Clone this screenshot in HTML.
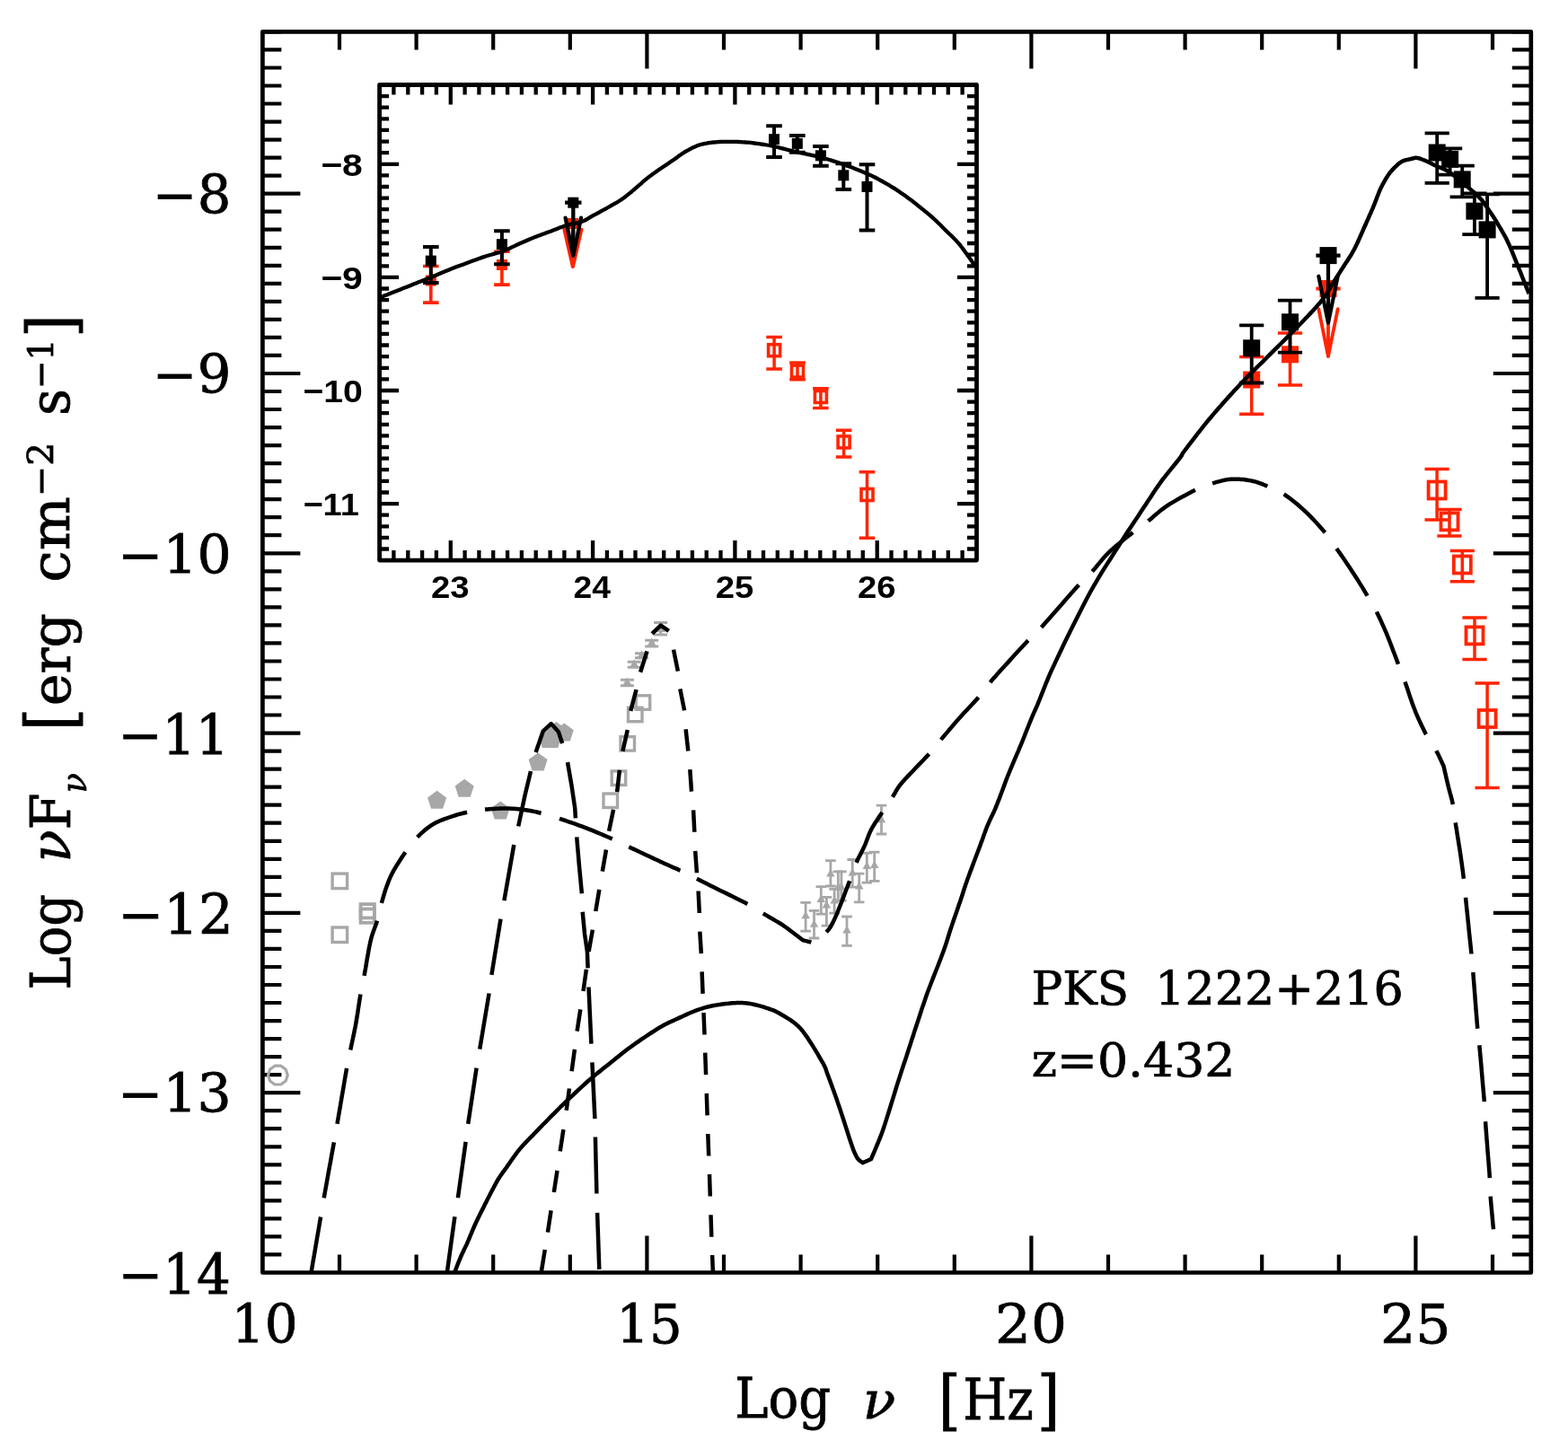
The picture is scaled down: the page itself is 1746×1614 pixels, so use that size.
<!DOCTYPE html>
<html><head><meta charset="utf-8"><title>PKS 1222+216 SED</title><style>
html,body{margin:0;padding:0;background:#fff;overflow:hidden;}
svg{display:block;}
</style></head><body>
<svg width="1746" height="1614" viewBox="0 0 1746 1614">
<rect width="1746" height="1614" fill="#fff"/>
<defs><clipPath id="cm"><rect x="292.4" y="35.4" width="1412.4" height="1382.1"/></clipPath><clipPath id="ci"><rect x="422.6" y="94.5" width="664.9" height="529.6"/></clipPath></defs>
<path d="M378 1417.5v-20M378 35.4v20M463.6 1417.5v-20M463.6 35.4v20M549.2 1417.5v-20M549.2 35.4v20M634.8 1417.5v-20M634.8 35.4v20M720.4 1417.5v-41M720.4 35.4v41M806 1417.5v-20M806 35.4v20M891.6 1417.5v-20M891.6 35.4v20M977.2 1417.5v-20M977.2 35.4v20M1062.8 1417.5v-20M1062.8 35.4v20M1148.4 1417.5v-41M1148.4 35.4v41M1234 1417.5v-20M1234 35.4v20M1319.6 1417.5v-20M1319.6 35.4v20M1405.2 1417.5v-20M1405.2 35.4v20M1490.8 1417.5v-20M1490.8 35.4v20M1576.4 1417.5v-41M1576.4 35.4v41M1662 1417.5v-20M1662 35.4v20M292.4 1397.4h21M1704.8 1397.4h-21M292.4 1377.4h21M1704.8 1377.4h-21M292.4 1357.4h21M1704.8 1357.4h-21M292.4 1337.4h21M1704.8 1337.4h-21M292.4 1317.3h21M1704.8 1317.3h-21M292.4 1297.3h21M1704.8 1297.3h-21M292.4 1277.3h21M1704.8 1277.3h-21M292.4 1257.2h21M1704.8 1257.2h-21M292.4 1237.2h21M1704.8 1237.2h-21M292.4 1217.2h42M1704.8 1217.2h-42M292.4 1197.1h21M1704.8 1197.1h-21M292.4 1177.1h21M1704.8 1177.1h-21M292.4 1157.1h21M1704.8 1157.1h-21M292.4 1137.1h21M1704.8 1137.1h-21M292.4 1117h21M1704.8 1117h-21M292.4 1097h21M1704.8 1097h-21M292.4 1077h21M1704.8 1077h-21M292.4 1056.9h21M1704.8 1056.9h-21M292.4 1036.9h21M1704.8 1036.9h-21M292.4 1016.9h42M1704.8 1016.9h-42M292.4 996.8h21M1704.8 996.8h-21M292.4 976.8h21M1704.8 976.8h-21M292.4 956.8h21M1704.8 956.8h-21M292.4 936.8h21M1704.8 936.8h-21M292.4 916.7h21M1704.8 916.7h-21M292.4 896.7h21M1704.8 896.7h-21M292.4 876.7h21M1704.8 876.7h-21M292.4 856.6h21M1704.8 856.6h-21M292.4 836.6h21M1704.8 836.6h-21M292.4 816.6h42M1704.8 816.6h-42M292.4 796.5h21M1704.8 796.5h-21M292.4 776.5h21M1704.8 776.5h-21M292.4 756.5h21M1704.8 756.5h-21M292.4 736.5h21M1704.8 736.5h-21M292.4 716.4h21M1704.8 716.4h-21M292.4 696.4h21M1704.8 696.4h-21M292.4 676.4h21M1704.8 676.4h-21M292.4 656.3h21M1704.8 656.3h-21M292.4 636.3h21M1704.8 636.3h-21M292.4 616.3h42M1704.8 616.3h-42M292.4 596.2h21M1704.8 596.2h-21M292.4 576.2h21M1704.8 576.2h-21M292.4 556.2h21M1704.8 556.2h-21M292.4 536.1h21M1704.8 536.1h-21M292.4 516.1h21M1704.8 516.1h-21M292.4 496.1h21M1704.8 496.1h-21M292.4 476.1h21M1704.8 476.1h-21M292.4 456h21M1704.8 456h-21M292.4 436h21M1704.8 436h-21M292.4 416h42M1704.8 416h-42M292.4 395.9h21M1704.8 395.9h-21M292.4 375.9h21M1704.8 375.9h-21M292.4 355.9h21M1704.8 355.9h-21M292.4 335.9h21M1704.8 335.9h-21M292.4 315.8h21M1704.8 315.8h-21M292.4 295.8h21M1704.8 295.8h-21M292.4 275.8h21M1704.8 275.8h-21M292.4 255.7h21M1704.8 255.7h-21M292.4 235.7h21M1704.8 235.7h-21M292.4 215.7h42M1704.8 215.7h-42M292.4 195.6h21M1704.8 195.6h-21M292.4 175.6h21M1704.8 175.6h-21M292.4 155.6h21M1704.8 155.6h-21M292.4 135.6h21M1704.8 135.6h-21M292.4 115.5h21M1704.8 115.5h-21M292.4 95.5h21M1704.8 95.5h-21M292.4 75.5h21M1704.8 75.5h-21M292.4 55.4h21M1704.8 55.4h-21M292.4 35.4h21M1704.8 35.4h-21" stroke="#000" stroke-width="4.2" fill="none"/>
<rect x="292.4" y="35.4" width="1412.4" height="1382.1" stroke="#000" stroke-width="4.7" fill="none" stroke-linejoin="round"/>
<rect x="370.1" y="973.1" width="16.5" height="16.5" fill="none" stroke="#a7a7a7" stroke-width="3.4"/>
<rect x="370.1" y="1033" width="16.5" height="16.5" fill="none" stroke="#a7a7a7" stroke-width="3.4"/>
<rect x="401.6" y="1007.1" width="15.3" height="15.3" fill="none" stroke="#a7a7a7" stroke-width="3.8"/>
<rect x="401.6" y="1012.5" width="15.3" height="15.3" fill="none" stroke="#a7a7a7" stroke-width="3.8"/>
<path d="M320.3 1197.6 318.2 1191.2 312.8 1187.2 306 1187.2 300.6 1191.2 298.5 1197.6 300.6 1204 306 1208 312.8 1208 318.2 1204Z" fill="none" stroke="#a7a7a7" stroke-width="3.2" stroke-linejoin="round"/>
<path d="M486.6 880.8 497.1 888.4 493.1 900.7 480.1 900.7 476.1 888.4Z" fill="#a7a7a7"/>
<path d="M517.2 867.8 527.7 875.4 523.7 887.7 510.7 887.7 506.7 875.4Z" fill="#a7a7a7"/>
<path d="M557.2 892.5 567.7 900.1 563.7 912.4 550.7 912.4 546.7 900.1Z" fill="#a7a7a7"/>
<path d="M599.1 838.5 609.6 846.1 605.6 858.4 592.6 858.4 588.6 846.1Z" fill="#a7a7a7"/>
<path d="M610.3 813 620.8 820.6 616.8 832.9 603.8 832.9 599.8 820.6Z" fill="#a7a7a7"/>
<path d="M614.8 813 625.3 820.6 621.3 832.9 608.3 832.9 604.3 820.6Z" fill="#a7a7a7"/>
<path d="M619.4 804 629.9 811.6 625.9 823.9 612.9 823.9 608.9 811.6Z" fill="#a7a7a7"/>
<path d="M628.3 805.6 638.8 813.2 634.8 825.5 621.8 825.5 617.8 813.2Z" fill="#a7a7a7"/>
<rect x="708.2" y="774.8" width="15.5" height="15.5" fill="none" stroke="#a7a7a7" stroke-width="3.4"/>
<rect x="699.5" y="788.2" width="15.5" height="15.5" fill="none" stroke="#a7a7a7" stroke-width="3.4"/>
<rect x="691" y="820.6" width="15.5" height="15.5" fill="none" stroke="#a7a7a7" stroke-width="3.4"/>
<rect x="681.2" y="858.9" width="15.5" height="15.5" fill="none" stroke="#a7a7a7" stroke-width="3.4"/>
<rect x="672" y="884" width="15.5" height="15.5" fill="none" stroke="#a7a7a7" stroke-width="3.4"/>
<path d="M698.4 754.4 703.9 764.3 692.9 764.3Z" fill="#a7a7a7"/>
<path d="M698.4 757.2V763.7M690.9 757.2h15M690.9 763.7h15" fill="none" stroke="#a7a7a7" stroke-width="3"/>
<path d="M706.2 734.3 711.7 744.2 700.7 744.2Z" fill="#a7a7a7"/>
<path d="M706.2 737.2V743.3M698.7 737.2h15M698.7 743.3h15" fill="none" stroke="#a7a7a7" stroke-width="3"/>
<path d="M714.5 724.3 720 734.2 709 734.2Z" fill="#a7a7a7"/>
<path d="M714.5 727.7V732.7M707 727.7h15M707 732.7h15" fill="none" stroke="#a7a7a7" stroke-width="3"/>
<path d="M725.7 710.6 731.2 720.5 720.2 720.5Z" fill="#a7a7a7"/>
<path d="M725.7 713.2V719.9M718.2 713.2h15M718.2 719.9h15" fill="none" stroke="#a7a7a7" stroke-width="3"/>
<path d="M735.6 694.1 741.1 704 730.1 704Z" fill="#a7a7a7"/>
<path d="M735.6 693.4V707M728.1 693.4h15M728.1 707h15" fill="none" stroke="#a7a7a7" stroke-width="3"/>
<path d="M897.1 1005.4V1037.2M891.3 1005.4h11.6M891.3 1037.2h11.6" fill="none" stroke="#a7a7a7" stroke-width="2.8"/>
<path d="M897.1 1014.8 901.9 1023.3 892.4 1023.3Z" fill="#a7a7a7"/>
<path d="M906.5 1014.3V1045M900.7 1014.3h11.6M900.7 1045h11.6" fill="none" stroke="#a7a7a7" stroke-width="2.8"/>
<path d="M906.5 1024.3 911.2 1032.8 901.8 1032.8Z" fill="#a7a7a7"/>
<path d="M914.3 987.6V1018.2M908.5 987.6h11.6M908.5 1018.2h11.6" fill="none" stroke="#a7a7a7" stroke-width="2.8"/>
<path d="M914.3 996.4 919 1004.9 909.5 1004.9Z" fill="#a7a7a7"/>
<path d="M920.4 999.3V1031.1M914.6 999.3h11.6M914.6 1031.1h11.6" fill="none" stroke="#a7a7a7" stroke-width="2.8"/>
<path d="M920.4 1003.1 925.1 1011.6 915.6 1011.6Z" fill="#a7a7a7"/>
<path d="M924.9 958.6V987M919.1 958.6h11.6M919.1 987h11.6" fill="none" stroke="#a7a7a7" stroke-width="2.8"/>
<path d="M924.9 968 929.6 976.5 920.1 976.5Z" fill="#a7a7a7"/>
<path d="M929.1 990.4V1017.1M923.3 990.4h11.6M923.3 1017.1h11.6" fill="none" stroke="#a7a7a7" stroke-width="2.8"/>
<path d="M929.1 997.9 933.9 1006.4 924.4 1006.4Z" fill="#a7a7a7"/>
<path d="M933.3 970.9V1003.2M927.5 970.9h11.6M927.5 1003.2h11.6" fill="none" stroke="#a7a7a7" stroke-width="2.8"/>
<path d="M933.3 983 938 991.5 928.5 991.5Z" fill="#a7a7a7"/>
<path d="M936.9 970.9V1003.2M931.1 970.9h11.6M931.1 1003.2h11.6" fill="none" stroke="#a7a7a7" stroke-width="2.8"/>
<path d="M936.9 982.9 941.6 991.4 932.1 991.4Z" fill="#a7a7a7"/>
<path d="M943 1021V1053.4M937.2 1021h11.6M937.2 1053.4h11.6" fill="none" stroke="#a7a7a7" stroke-width="2.8"/>
<path d="M943 1031 947.8 1039.5 938.2 1039.5Z" fill="#a7a7a7"/>
<path d="M949.2 957.5V988.1M943.4 957.5h11.6M943.4 988.1h11.6" fill="none" stroke="#a7a7a7" stroke-width="2.8"/>
<path d="M949.2 966.9 954 975.4 944.5 975.4Z" fill="#a7a7a7"/>
<path d="M956.7 973.1V1004.9M950.9 973.1h11.6M950.9 1004.9h11.6" fill="none" stroke="#a7a7a7" stroke-width="2.8"/>
<path d="M956.7 981.9 961.5 990.4 952 990.4Z" fill="#a7a7a7"/>
<path d="M965.3 950.2V983.1M959.5 950.2h11.6M959.5 983.1h11.6" fill="none" stroke="#a7a7a7" stroke-width="2.8"/>
<path d="M965.3 959.6 970 968.1 960.5 968.1Z" fill="#a7a7a7"/>
<path d="M973.7 949.1V981.4M967.9 949.1h11.6M967.9 981.4h11.6" fill="none" stroke="#a7a7a7" stroke-width="2.8"/>
<path d="M973.7 958.5 978.5 967 969 967Z" fill="#a7a7a7"/>
<path d="M981.5 897.2V929M975.7 897.2h11.6M975.7 929h11.6" fill="none" stroke="#a7a7a7" stroke-width="2.8"/>
<path d="M981.5 907.8 986.2 916.3 976.8 916.3Z" fill="#a7a7a7"/>
<path d="M1393.7 397.5V461.2M1380.1 397.5h27.2M1380.1 461.2h27.2" fill="none" stroke="#ff2400" stroke-width="3.5"/>
<rect x="1384.2" y="413.5" width="19" height="19" fill="#ff2400"/>
<path d="M1436.5 371V429.1M1422.9 371h27.2M1422.9 429.1h27.2" fill="none" stroke="#ff2400" stroke-width="3.5"/>
<rect x="1427" y="385.3" width="19" height="19" fill="#ff2400"/>
<rect x="1469.5" y="312" width="19" height="19" fill="#ff2400"/>
<path d="M1465.4 321.5h27.2 M1479 321.5V397" fill="none" stroke="#ff2400" stroke-width="3.8"/>
<path d="M1468.3 344.1L1479 397L1489.7 344.1" fill="none" stroke="#ff2400" stroke-width="3.8" stroke-linejoin="round" stroke-linecap="round"/>
<path d="M1600.1 522.6V579M1586.5 522.6h27.2M1586.5 579h27.2" fill="none" stroke="#ff2400" stroke-width="3.5"/>
<rect x="1590.6" y="536.5" width="19" height="19" fill="none" stroke="#ff2400" stroke-width="3.8"/>
<path d="M1614 567.5V596.9M1600.4 567.5h27.2M1600.4 596.9h27.2" fill="none" stroke="#ff2400" stroke-width="3.5"/>
<rect x="1604.5" y="571.4" width="19" height="19" fill="none" stroke="#ff2400" stroke-width="3.8"/>
<path d="M1628.3 613.4V647.7M1614.7 613.4h27.2M1614.7 647.7h27.2" fill="none" stroke="#ff2400" stroke-width="3.5"/>
<rect x="1618.8" y="619.5" width="19" height="19" fill="none" stroke="#ff2400" stroke-width="3.8"/>
<path d="M1642 688V734.6M1628.4 688h27.2M1628.4 734.6h27.2" fill="none" stroke="#ff2400" stroke-width="3.5"/>
<rect x="1632.5" y="698.4" width="19" height="19" fill="none" stroke="#ff2400" stroke-width="3.8"/>
<path d="M1656.1 761.1V877.4M1642.5 761.1h27.2M1642.5 877.4h27.2" fill="none" stroke="#ff2400" stroke-width="3.5"/>
<rect x="1646.6" y="791" width="19" height="19" fill="none" stroke="#ff2400" stroke-width="3.8"/>
<path d="M1393.7 362.3V426.5M1380.1 362.3h27.2M1380.1 426.5h27.2" fill="none" stroke="#000" stroke-width="3.8"/>
<rect x="1384.2" y="378.3" width="19" height="19" fill="#000"/>
<path d="M1436.5 334.6V392.7M1422.9 334.6h27.2M1422.9 392.7h27.2" fill="none" stroke="#000" stroke-width="3.8"/>
<rect x="1427" y="349.3" width="19" height="19" fill="#000"/>
<rect x="1469.5" y="275.1" width="19" height="19" fill="#000"/>
<path d="M1465.4 284.6h27.2 M1479 284.6V359.7" fill="none" stroke="#000" stroke-width="4.2"/>
<path d="M1468.3 307.7L1479 359.7L1489.7 307.7" fill="none" stroke="#000" stroke-width="4.2" stroke-linejoin="round" stroke-linecap="round"/>
<path d="M1600.2 148.4V203.9M1586.6 148.4h27.2M1586.6 203.9h27.2" fill="none" stroke="#000" stroke-width="3.8"/>
<rect x="1590.7" y="160.5" width="19" height="19" fill="#000"/>
<path d="M1614.6 165.3V194.6M1601 165.3h27.2M1601 194.6h27.2" fill="none" stroke="#000" stroke-width="3.8"/>
<rect x="1605.1" y="167.8" width="19" height="19" fill="#000"/>
<path d="M1628.2 184.6V219.3M1614.6 184.6h27.2M1614.6 219.3h27.2" fill="none" stroke="#000" stroke-width="3.8"/>
<rect x="1618.7" y="190.4" width="19" height="19" fill="#000"/>
<path d="M1641.9 215.3V261.2M1628.3 215.3h27.2M1628.3 261.2h27.2" fill="none" stroke="#000" stroke-width="3.8"/>
<rect x="1632.4" y="225.7" width="19" height="19" fill="#000"/>
<path d="M1656.1 216.3V331.8M1642.5 216.3h27.2M1642.5 331.8h27.2" fill="none" stroke="#000" stroke-width="3.8"/>
<rect x="1646.6" y="246.4" width="19" height="19" fill="#000"/>
<g clip-path="url(#cm)">
<path d="M346.5 1417.6 347.4 1412.4 348.6 1405.2 350.1 1396.6 351.7 1387.2 353.3 1377.6 354.9 1368.6 356.2 1360.6 357.1 1355.5M360.7 1334.3 360.7 1334.3 361.8 1328.2 363.2 1320.7 364.7 1312.1 366.3 1303.1 368 1294.1 369.5 1285.5 370.9 1278 371.9 1272.3M375.5 1251.9 376.5 1245.8 377.8 1238.3 379.3 1229.7 380.8 1220.6 382.4 1211.6 383.8 1203 385.1 1195.5 386.1 1189.8M390.2 1169.5 390.9 1166.3 391.6 1162.9 392.4 1159.3 393.2 1155.6 394 1151.7 394.8 1147.8 395.6 1143.9 396.3 1140 397 1136 397.7 1131.7 398.4 1127.4 399 1123 399.7 1118.7 400.3 1114.6 400.9 1110.7 401.4 1107.5M405.6 1086.8 406.3 1082.7 407.2 1077.9 408 1072.8 408.9 1067.4 409.9 1062 410.8 1056.7 411.8 1051.9 412.7 1047.7 413.6 1044.1 414.6 1040.9 415.6 1038 416.6 1035.3 417.5 1032.8 418.4 1030.4 419.3 1027.9 420 1025.6M424.8 1005.9 425.8 1002.7 426.8 999.1 427.9 995.4 429.1 991.5 430.5 987.6 431.9 983.7 433.4 979.9 435 976.2 436.8 972.6 438.8 968.9 440.9 965.3 443.2 961.7 445.4 958.2 447.6 954.8 449.7 951.7 451.4 949.3M464.7 932.5 464.7 932.5 466.6 930.6 468.6 928.7 470.6 926.9 472.7 925 474.8 923.3 477 921.6 479.2 920 481.4 918.6 483.6 917.3 485.9 916.1 488.2 915 490.5 914 492.8 913.1 495.2 912.2 497.6 911.4 500 910.5 502.5 909.6 505 908.8 507.6 908 510.2 907.2 512.8 906.5 515.4 905.8 518 905.2 520.1 904.7M540 901.6 542.5 901.4 545 901.2 547.5 901 550 900.9 552.5 900.7 555 900.7 557.5 900.6 560 900.6 562.5 900.6 564.9 900.6 567.4 900.6 569.8 900.7 572.3 900.8 574.8 901 577.3 901.2 580 901.5 582.8 901.9 585.7 902.3 588.6 902.8 591.6 903.3 594.6 903.9 597.6 904.5 600.4 905.2 602.6 905.7M623 911.8 623 911.8 626.2 912.9 629.6 914 633.2 915.3 637 916.5 640.8 917.9 644.6 919.3 648.4 920.7 652.2 922.1 656 923.6 659.9 925.2 663.9 926.8 667.9 928.5 671.8 930.1 675.5 931.7 679 933.2 681.8 934.4M700.3 943.2 700.3 943.2 702.7 944.4 705.2 945.6 707.8 946.8 710.3 948 712.9 949.2 715.6 950.5 718.2 951.7 720.9 953 723.7 954.3 726.5 955.6 729.4 957 732.4 958.3 735.3 959.7 738.1 961 740.7 962.2 743.2 963.3 745.5 964.3 747.5 965.2 749.4 966.1 751.3 966.9 753.1 967.6 754.9 968.4 756.7 969.3 757.5 969.6M775.9 978.8 775.9 978.8 778.4 980 780.8 981.3 783.3 982.5 785.9 983.8 788.7 985.2 791.6 986.7 794.8 988.3 798.2 990 802.1 991.9 806.5 994.1 811.3 996.4 816.2 998.8 821 1001.2 825.6 1003.5 829.8 1005.6 832.3 1006.9M849.8 1017.5 849.8 1017.5 852.2 1018.9 854.8 1020.4 857.4 1022 860.2 1023.5 862.8 1025.1 865.4 1026.6 867.8 1028 870 1029.4 871.9 1030.7 873.6 1031.8 875.2 1033 876.7 1034 878.1 1035.1 879.5 1036.1 880.8 1037.2 882.3 1038.3 883.9 1039.5 885.5 1040.7 887.2 1042 888.9 1043.3 890.5 1044.5 891.9 1045.6 893.1 1046.5 894 1047.2 894.9 1047.4 896.2 1047.8 897.7 1048.2 899.3 1048.6 900.9 1049 902.4 1049.4 903.3 1049.7M920.2 1038.3 921.7 1036.6 922.9 1035.1 924.1 1033.5 925.2 1031.8 926.2 1029.9 927.4 1027.6 928.7 1024.9 930.2 1021.6 932 1017.5 934 1012.5 936.2 1007 938.5 1001.1 940.7 995.3 942.8 989.7 944.8 984.6 946.1 981.2M953.6 960.8 953.6 960.8 954.6 958.5 955.8 956.1 956.9 953.8 958.1 951.6 959.2 949.3 960.4 947 961.5 944.7 962.6 942.4 963.6 940.1 964.5 937.7 965.4 935.4 966.3 933 967.2 930.6 968.2 928.2 969.2 925.9 970.4 923.5 971.7 921.1 973.2 918.7 974.7 916.3 976.3 913.9 977.9 911.5 979.5 909.1 981.1 906.8 982.3 904.9M993.9 887.7 993.9 887.7 995.1 885.8 996.2 884 997.1 882.2 998.1 880.5 999.2 878.7 1000.6 876.6 1002.4 874.2 1004.6 871.5 1007.5 868.2 1011.1 864.4 1015.1 860.2 1019.3 855.8 1023.5 851.4 1027.6 847.2 1031.2 843.4 1034.3 840.1 1034.5 839.9M1047.8 823.9 1050 821.3 1052.4 818.4 1055 815.4 1057.6 812.2 1060.3 809.1 1063 805.9 1065.7 802.7 1068.4 799.7 1071.1 796.7 1073.9 793.6 1076.8 790.6 1079.7 787.5 1082.5 784.5 1085.2 781.6 1087.7 778.9 1089.6 776.8M1102.6 760.1 1102.6 760.1 1104 758.3 1105.3 756.8 1106.5 755.4 1107.8 754 1109.2 752.4 1110.8 750.6 1112.7 748.4 1115.1 745.8 1118.1 742.5 1121.7 738.6 1125.6 734.2 1129.8 729.6 1134 725 1138 720.7 1141.7 716.7 1144.8 713.4 1144.8 713.4M1159.6 698.8 1163.6 694.3 1168.7 688.6 1174.4 682.1 1180.4 675.2 1186.4 668.3 1192.1 661.8 1197.2 656.1 1201.3 651.5M1216.2 636.6 1216.2 636.6 1218.3 634.2 1220.4 631.7 1222.5 629.1 1224.8 626.4 1227.1 623.6 1229.5 620.8 1232.1 618 1234.8 615.2 1237.8 612.4 1241.2 609.5 1244.7 606.5 1248.4 603.5 1252 600.6 1255.5 597.8 1258.8 595.2 1261.4 593.1M1278.5 580.3 1278.5 580.3 1280.9 578.4 1283.3 576.4 1285.7 574.2 1288.3 572.1 1290.9 569.9 1293.7 567.6 1296.7 565.4 1299.9 563.2 1303.4 560.9 1307.4 558.6 1311.5 556.1 1315.8 553.7 1320.1 551.4 1324.2 549.2 1328 547.2 1330.9 545.8M1350.1 538.4 1352 537.8 1354.1 537.2 1356.1 536.6 1358.1 536.1 1360 535.6 1361.8 535.1 1363.7 534.7 1365.4 534.4 1367.1 534.1 1368.7 533.9 1370.2 533.8 1371.7 533.7 1373.1 533.7 1374.5 533.7 1376 533.7 1377.4 533.7 1378.8 533.7 1380.3 533.8 1381.7 533.9 1383.1 534 1384.5 534.1 1385.9 534.3 1387.3 534.5 1388.7 534.7 1390.1 534.9 1391.4 535.1 1392.8 535.4 1394.1 535.7 1395.5 536 1396.9 536.3 1398.3 536.7 1399.7 537.1 1401.1 537.6 1402.6 538.1 1404 538.6 1405.5 539.2 1407 539.8 1408.6 540.5 1410.3 541.2 1411.3 541.7M1429.7 550.4 1432.4 552.3 1435.3 554.4 1438.4 556.7 1441.5 559.2 1444.7 561.8 1447.8 564.5 1450.9 567.3 1453.9 570 1456.8 572.8 1459.8 575.9 1462.8 579 1465.8 582.2 1468.7 585.4 1471.4 588.5 1473.9 591.4 1475.5 593.3M1488.3 610.9 1488.3 610.9 1490.4 614 1492.8 617.4 1495.3 621 1497.9 624.8 1500.5 628.7 1503.1 632.5 1505.5 636.2 1507.8 639.7 1509.9 643 1512 646.2 1513.9 649.4 1515.8 652.4 1517.7 655.4 1519.4 658.3 1521.1 661.1 1522.6 663.7M1532.9 681.5 1532.9 681.5 1534.3 684.4 1535.8 687.5 1537.3 690.7 1538.8 694.1 1540.4 697.6 1541.9 701.1 1543.5 704.7 1545 708.4 1546.5 712.2 1548.1 716.3 1549.7 720.4 1551.3 724.7 1552.9 728.8 1554.4 732.8 1555.8 736.6 1557 739.7M1564.5 759.6 1564.5 759.6 1565.8 763.2 1567.2 767.3 1568.6 771.6 1570.1 776.2 1571.7 780.8 1573.3 785.4 1575 789.8 1576.6 793.9 1578.3 797.9 1580.1 801.9 1581.9 805.8 1583.8 809.7 1585.6 813.3 1587.3 816.8 1588 818M1599.3 836.2 1599.3 836.2 1600.4 838.3 1601.6 840.6 1602.8 843.1 1603.9 845.6 1605.1 848 1606 850.1 1606.9 852 1607.5 853.3 1607.9 855 1608.4 857.2 1609 859.9 1609.7 862.8 1610.4 865.9 1611.1 869.1 1611.8 872.1 1612.5 875 1613.2 877.7 1613.9 880.4 1614.6 883.1 1615.4 885.9 1616.1 888.6 1616.8 891.2 1617.4 893.9 1617.9 896.1M1620.7 916.4 1620.7 916.4 1621.2 919.9 1621.9 923.8 1622.5 928 1623.2 932.3 1623.9 936.7 1624.6 941.1 1625.3 945.4 1625.9 949.4 1626.5 953.3 1627 957.2 1627.6 961.1 1628.1 964.9 1628.6 968.6 1629.1 972.2 1629.5 975.7 1629.9 978.7M1632 999.7 1632 999.7 1632.6 1005.8 1633.4 1013.4 1634.3 1021.9 1635.2 1031 1636.1 1040 1637 1048.5 1637.8 1056.1 1638.4 1062.2 1638.4 1062.4M1640.3 1083 1640.3 1083 1640.8 1089.2 1641.4 1096.9 1642.1 1105.6 1642.8 1114.8 1643.5 1124 1644.2 1132.7 1644.8 1140.3 1645.3 1145.8M1647.3 1164.3 1647.3 1164.3 1647.9 1170.5 1648.6 1178.3 1649.4 1187.2 1650.2 1196.7 1651 1206.2 1651.8 1215.1 1652.5 1223 1652.8 1227.1M1654 1249.3 1654 1249.3 1654.5 1255.6 1655.1 1263.5 1655.8 1272.4 1656.5 1281.9 1657.3 1291.4 1658 1300.3 1658.6 1308.1 1658.8 1312.1M1659.7 1332.7 1660 1336.7 1660.4 1341.4 1660.9 1346.7 1661.4 1352.2 1661.9 1357.5 1662.3 1362.3 1662.7 1366.4 1663 1369.3" fill="none" stroke="#000" stroke-width="4.5" stroke-linejoin="round"/>
<path d="M497.8 1417.6 506.4 1355.2M509.9 1334.3 509.9 1334.3 518.6 1271.9M521.2 1251.9 521.2 1251.9 530.6 1189.6M534.2 1168.6 534.2 1168.6 539 1140 544.6 1106.5M547.4 1085.8 547.4 1085.8 557.5 1023.6M561.4 1003.1 561.4 1003.1 572.3 941M577.2 920.4 577.2 920.4 584.5 886 591 858.9M596.6 838.1 596.6 838.1 604.8 814.3 613.6 806.1 621.8 815 626.2 828M632 849 632 849 636.5 875 640.2 900 640.9 911.3M642.2 932.4 645 965 647.9 995.2M648.7 1015.7 651 1040 653.9 1060 654.6 1078.4M655.5 1099.6 655.5 1100 658.4 1162.6M659.4 1183.3 662.4 1246.2M662.9 1266.5 664.4 1329.5M665.1 1350.8 667.3 1413.8" fill="none" stroke="#000" stroke-width="4.5" stroke-linejoin="round"/>
<path d="M602.9 1416.2 606.8 1392M609.9 1372.6 609.9 1372.6 613.6 1348.4M616.8 1328 616.8 1328 620.5 1303.8M623.7 1282.4 623.7 1282.4 627.4 1258.2M630.7 1236.8 630.7 1236.8 634 1212.5M636.6 1193.2 636.6 1193.2 639.9 1168.9M642.6 1148.6 642.6 1148.6 646.3 1124.4M649.5 1104 649.5 1104 652.9 1079.7M655.6 1059.8 659.9 1035.6M663.3 1015 663.3 1014.9 667.3 990.8M670.8 970.6 675 946.5M678.1 925.7 683.1 901.7M687 882.1 687.4 880 689.9 857.7M693.4 836.8 693.4 836.8 698.8 812.9M702.2 791.8 702.2 791.8 708.4 768.6 708.5 768.1M713.1 748.8 713.1 748.8 720.5 725.4M726.1 705.9 726.1 705.9 735.7 696.5 744.7 702.9M750 723.6 754.7 746.8 754.8 747.6M757.3 767.4 757.4 767.9 762.1 791.4M763.6 812.2 763.6 812.2 766.3 836.5M768.3 857.2 768.3 857.2 769.9 880 770.1 881.6M772.1 902.3 772.1 902.3 773.3 926.4 773.3 926.8M774.2 947.9 774.2 947.9 775.9 971.9 775.9 972.3M777.6 992.5 777.6 992.5 778.8 1017M779.3 1037.7 779.3 1037.7 780.7 1060 780.8 1062.2M781.6 1082.3 781.6 1082.3 782.6 1106.8M783.5 1128 784 1140 784.5 1152.5M785.2 1172.6 786.1 1197.1M786.8 1217.9 787.6 1242.4M788.3 1263 789.2 1287.5M790 1308 790.4 1320 790.8 1332.5M791.5 1353.3 792.3 1377.8M793.1 1398 793.9 1417.5" fill="none" stroke="#000" stroke-width="4.5" stroke-linejoin="round"/>
<path d="M506.2 1417.3 506.7 1416 507.4 1414.3 508.1 1412.3 509 1410 509.9 1407.6 510.9 1405.2 511.9 1402.8 512.8 1400.6 513.7 1398.5 514.6 1396.5 515.6 1394.5 516.5 1392.5 517.5 1390.5 518.5 1388.4 519.6 1386.2 520.6 1383.9 521.6 1381.5 522.7 1379 523.7 1376.4 524.8 1373.8 525.9 1371.1 527.1 1368.3 528.3 1365.5 529.6 1362.7 531 1359.8 532.4 1356.8 533.9 1353.7 535.5 1350.5 537.1 1347.4 538.7 1344.2 540.2 1341.1 541.8 1338.1 543.3 1335.1 544.9 1332 546.5 1328.8 548.1 1325.8 549.7 1322.8 551.2 1319.9 552.7 1317.2 554.1 1314.7 555.4 1312.5 556.7 1310.6 557.8 1308.9 559 1307.2 560.1 1305.7 561.3 1304 562.7 1302.2 564.1 1300.2 565.7 1297.9 567.4 1295.5 569.1 1293 570.9 1290.4 572.8 1287.7 574.7 1285.1 576.6 1282.5 578.6 1280.1 580.6 1277.8 582.6 1275.5 584.6 1273.4 586.7 1271.2 588.8 1269 590.9 1266.9 593.2 1264.6 595.4 1262.3 597.7 1259.9 600.1 1257.4 602.5 1254.9 605 1252.3 607.5 1249.8 610 1247.2 612.5 1244.7 615 1242.2 617.4 1239.8 619.8 1237.4 622.2 1235 624.5 1232.7 626.9 1230.3 629.4 1227.9 631.9 1225.4 634.6 1222.9 637.4 1220.3 640.2 1217.6 643.1 1214.9 646.1 1212.1 649.1 1209.3 652.2 1206.5 655.3 1203.8 658.4 1201.1 661.6 1198.4 664.9 1195.6 668.4 1192.9 671.8 1190.1 675.2 1187.4 678.4 1184.9 681.4 1182.5 684.2 1180.3 686.6 1178.3 688.8 1176.6 690.7 1175 692.6 1173.5 694.3 1172.1 696.1 1170.8 698 1169.3 700 1167.8 702.2 1166.2 704.4 1164.6 706.6 1163 708.9 1161.4 711.2 1159.8 713.5 1158.2 715.9 1156.6 718.3 1155 720.8 1153.4 723.3 1151.7 725.9 1150 728.5 1148.3 731.1 1146.6 733.7 1145 736.1 1143.6 738.5 1142.2 740.7 1141 742.9 1139.9 745 1138.9 747 1138 749 1137.1 751 1136.2 753 1135.3 755 1134.4 757.1 1133.4 759.1 1132.5 761.2 1131.5 763.2 1130.6 765.3 1129.6 767.4 1128.7 769.4 1127.8 771.5 1127 773.6 1126.2 775.6 1125.4 777.6 1124.7 779.6 1124 781.7 1123.3 783.7 1122.7 785.9 1122.1 788 1121.5 790.2 1121 792.4 1120.5 794.7 1120 797 1119.6 799.4 1119.3 801.7 1118.9 804 1118.6 806.3 1118.3 808.6 1118 811 1117.8 813.4 1117.5 815.7 1117.3 818.1 1117.2 820.4 1117.1 822.6 1117 824.7 1117 826.7 1117.1 828.6 1117.2 830.4 1117.3 832.2 1117.6 834 1117.8 835.7 1118.1 837.5 1118.4 839.3 1118.8 841.1 1119.2 843 1119.6 844.8 1120.1 846.7 1120.6 848.5 1121.1 850.4 1121.7 852.2 1122.3 854 1122.9 855.7 1123.5 857.4 1124 859 1124.6 860.6 1125.1 862.3 1125.8 864.1 1126.7 866.1 1127.7 868.3 1129 870.8 1130.5 873.5 1132 876.4 1133.8 879.4 1135.6 882.5 1137.8 885.6 1140.2 888.7 1142.9 891.7 1146 894.7 1149.7 897.9 1154.1 901.1 1158.9 904.3 1163.9 907.4 1168.9 910.3 1173.7 912.8 1178.1 915 1181.8 916.7 1184.7 917.9 1187.1 918.8 1188.9 919.4 1190.6 920 1192.3 920.6 1194.1 921.4 1196.4 922.5 1199.3 923.8 1202.7 925.2 1206.5 926.6 1210.5 928.2 1214.8 929.8 1219.3 931.5 1224.1 933.2 1229.1 935 1234.3 936.9 1240.1 939.1 1246.7 941.3 1253.7 943.6 1260.8 945.8 1267.8 948 1274.2 949.9 1279.8 951.7 1284.3 953.3 1287.6 954.7 1290 956.1 1291.7 957.3 1292.9 958.4 1293.6 959.3 1294.2 960.1 1294.6 960.8 1295.2 961.6 1294.8 962.7 1294.3 964 1293.7 965.4 1293.1 966.8 1292.5 968.1 1291.9 969.2 1291.4 970 1291 970.5 1289.9 971.1 1288.4 971.8 1286.7 972.7 1284.8 973.6 1282.7 974.5 1280.5 975.4 1278.3 976.3 1276.1 977.2 1274 978 1272.1 978.8 1270.2 979.6 1268.2 980.5 1265.9 981.6 1263.2 982.7 1260 984.1 1256 985.7 1251.1 987.5 1245.3 989.6 1238.8 991.7 1232 993.8 1225.1 995.9 1218.4 997.8 1212 999.6 1206.4 1001.2 1201.4 1002.7 1196.9 1004 1192.7 1005.3 1188.7 1006.6 1184.8 1007.9 1181 1009.2 1177.1 1010.5 1173 1011.8 1168.9 1013.2 1164.7 1014.5 1160.6 1015.8 1156.5 1017.2 1152.4 1018.5 1148.2 1019.9 1144 1021.3 1139.8 1022.7 1135.6 1024 1131.5 1025.4 1127.3 1026.7 1123.1 1028.2 1118.9 1029.7 1114.5 1031.3 1109.8 1033 1105 1035 1099.7 1037.2 1094 1039.5 1088.1 1041.9 1082 1044.3 1076 1046.5 1070.2 1048.6 1064.8 1050.4 1060 1051.9 1055.8 1053.1 1052.2 1054.2 1048.9 1055.1 1045.9 1056 1043 1056.9 1040 1057.9 1036.8 1059.1 1033.3 1060.4 1029.4 1061.8 1025.2 1063.3 1020.9 1064.9 1016.4 1066.4 1012.1 1067.8 1007.8 1069.2 1003.9 1070.4 1000.3 1071.4 997.2 1072.3 994.6 1073 992.2 1073.7 990 1074.5 987.8 1075.2 985.4 1076.2 982.7 1077.3 979.5 1078.7 975.8 1080.2 971.6 1081.9 967.1 1083.6 962.5 1085.4 957.8 1087.1 953.2 1088.8 948.8 1090.3 944.8 1091.7 941.1 1092.9 937.6 1094.2 934.2 1095.3 930.9 1096.5 927.8 1097.6 924.7 1098.7 921.7 1099.9 918.8 1101.1 916.1 1102.2 913.6 1103.3 911.3 1104.4 909.1 1105.5 906.7 1106.7 904.2 1108 901.3 1109.4 898 1110.9 894.2 1112.6 889.9 1114.3 885.3 1116.1 880.5 1117.9 875.6 1119.7 870.7 1121.5 866 1123.3 861.5 1125.1 857.2 1126.9 852.9 1128.7 848.6 1130.5 844.4 1132.2 840.3 1134 836.3 1135.6 832.4 1137.2 828.6 1138.7 825 1140.1 821.5 1141.4 818.1 1142.7 814.8 1144 811.6 1145.2 808.5 1146.4 805.5 1147.6 802.6 1148.7 799.9 1149.7 797.5 1150.7 795.3 1151.6 793.2 1152.6 791 1153.7 788.5 1154.9 785.8 1156.2 782.6 1157.7 779 1159.2 775.2 1160.8 771.1 1162.5 766.8 1164.3 762.2 1166.3 757.5 1168.4 752.4 1170.7 747.2 1173.3 741.6 1176.1 735.6 1179.1 729.2 1182.2 722.7 1185.4 716.1 1188.6 709.5 1191.8 703.1 1194.8 697 1197.7 691.2 1200.6 685.5 1203.4 679.9 1206.2 674.5 1209 669 1211.9 663.5 1214.9 658 1218.1 652.4 1221.5 646.6 1225 640.7 1228.7 634.6 1232.5 628.6 1236.3 622.7 1240 616.9 1243.5 611.3 1246.9 606 1250.1 601 1253.1 596.3 1256 591.8 1258.9 587.5 1261.7 583.2 1264.5 579.1 1267.3 574.9 1270.1 570.6 1272.9 566.3 1275.8 562 1278.6 557.6 1281.4 553.4 1284.1 549.2 1286.9 545.1 1289.7 541.1 1292.4 537.2 1295.2 533.4 1298.2 529.6 1301.2 525.8 1304.2 522.1 1307 518.7 1309.6 515.5 1311.9 512.6 1313.8 510.2 1315.1 508.4 1315.8 507.4 1316.1 506.8 1316.3 506.4 1316.4 505.9 1316.8 505.2 1317.6 504 1319.1 502 1321.3 499.1 1323.9 495.6 1327 491.6 1330.3 487.3 1333.7 482.9 1337.1 478.6 1340.4 474.4 1343.4 470.7 1346.2 467.3 1348.8 464.2 1351.4 461.1 1353.9 458.2 1356.4 455.3 1359 452.4 1361.5 449.5 1364.2 446.5 1366.9 443.4 1369.7 440.4 1372.6 437.2 1375.4 434.1 1378.3 431.1 1381.1 428 1384 425.1 1386.7 422.2 1389.3 419.5 1391.8 416.9 1394.3 414.5 1396.7 412.1 1399.2 409.6 1401.8 407 1404.6 404.3 1407.6 401.3 1410.9 398 1414.5 394.4 1418.3 390.7 1422.1 386.9 1426 383 1429.9 379.2 1433.6 375.4 1437.1 371.9 1440.4 368.5 1443.8 365.1 1447 361.8 1450.2 358.5 1453.2 355.3 1456.1 352.3 1458.8 349.4 1461.3 346.7 1463.6 344.2 1465.6 342 1467.4 339.9 1469.1 338 1470.7 336.1 1472.2 334.2 1473.7 332.3 1475.2 330.2 1476.7 328 1478.1 325.9 1479.5 323.6 1480.8 321.4 1482.1 319.2 1483.3 317 1484.6 314.8 1485.9 312.7 1487.2 310.7 1488.4 308.7 1489.7 306.8 1490.9 304.9 1492.1 303.1 1493.4 301.1 1494.7 299.1 1496 297 1497.4 294.8 1498.8 292.6 1500.3 290.4 1501.8 288.1 1503.3 285.8 1504.8 283.3 1506.3 280.7 1507.8 278 1509.3 275.1 1510.8 272 1512.3 268.7 1513.8 265.3 1515.3 262 1516.8 258.6 1518.2 255.3 1519.6 252.2 1521 249.2 1522.3 246.2 1523.6 243.3 1524.8 240.4 1526.1 237.6 1527.3 234.8 1528.5 232.1 1529.6 229.4 1530.7 226.8 1531.7 224.1 1532.7 221.6 1533.6 219 1534.6 216.6 1535.5 214.2 1536.5 211.8 1537.5 209.6 1538.6 207.4 1539.7 205.3 1540.8 203.3 1541.9 201.3 1543 199.4 1544.2 197.6 1545.3 195.8 1546.4 194.2 1547.5 192.7 1548.7 191.2 1549.8 189.9 1551 188.6 1552.1 187.4 1553.2 186.3 1554.3 185.3 1555.3 184.3 1556.3 183.4 1557.1 182.6 1558 181.9 1558.8 181.3 1559.6 180.8 1560.5 180.2 1561.3 179.8 1562.3 179.3 1563.3 178.9 1564.4 178.5 1565.6 178.2 1566.8 177.9 1567.9 177.7 1569.1 177.4 1570.2 177.2 1571.2 177 1572.1 176.8 1573 176.5 1573.8 176.3 1574.5 176.1 1575.3 175.9 1576.1 175.8 1577.1 175.8 1578.1 175.9 1579.3 176.1 1580.6 176.5 1581.9 176.9 1583.4 177.5 1584.8 178 1586.2 178.6 1587.7 179.2 1589 179.8 1590.3 180.4 1591.5 180.9 1592.6 181.5 1593.8 182.1 1595 182.8 1596.2 183.4 1597.6 184.1 1599 184.8 1600.5 185.5 1602.1 186.1 1603.8 186.7 1605.5 187.4 1607.3 188.1 1609.1 189 1611.1 190 1613.2 191.3 1615.5 192.9 1617.9 194.7 1620.5 196.7 1623.2 198.9 1625.8 201.1 1628.4 203.3 1630.9 205.4 1633.2 207.3 1635.3 209.1 1637.4 210.9 1639.4 212.6 1641.3 214.3 1643.1 215.9 1644.8 217.5 1646.4 219.1 1647.9 220.6 1649.2 222 1650.3 223.3 1651.3 224.5 1652.2 225.7 1653 226.9 1653.9 228.2 1654.8 229.6 1655.9 231.2 1657.1 232.9 1658.3 234.7 1659.6 236.6 1661 238.5 1662.3 240.6 1663.7 242.7 1665.1 244.9 1666.5 247.2 1667.9 249.6 1669.4 252.1 1671 254.6 1672.5 257.3 1674 260 1675.6 262.8 1677.1 265.6 1678.5 268.5 1679.9 271.4 1681.2 274.4 1682.5 277.3 1683.8 280.4 1685.1 283.6 1686.4 286.8 1687.7 290.2 1689.2 293.8 1690.8 297.8 1692.7 302.3 1694.6 307.2 1696.5 312 1698.4 316.7 1700 320.9 1701.5 324.5 1702.5 327.1" fill="none" stroke="#000" stroke-width="4.5" stroke-linejoin="round"/>
</g>
<rect x="422.6" y="94.5" width="664.9" height="529.6" fill="#fff"/>
<path d="M479.8 296.5V337.1M471 296.5h17.6M471 337.1h17.6" fill="none" stroke="#ff2400" stroke-width="3.6"/>
<rect x="473.8" y="306.5" width="12" height="12" fill="#ff2400"/>
<path d="M558.9 280.2V317.1M550.1 280.2h17.6M550.1 317.1h17.6" fill="none" stroke="#ff2400" stroke-width="3.6"/>
<rect x="552.9" y="289" width="12" height="12" fill="#ff2400"/>
<rect x="631.9" y="243" width="12" height="12" fill="#ff2400"/>
<path d="M629.1 249h17.6 M637.9 249V297" fill="none" stroke="#ff2400" stroke-width="4.0"/>
<path d="M628.4 255.7L637.9 297L647.4 255.7" fill="none" stroke="#ff2400" stroke-width="4.0" stroke-linejoin="round" stroke-linecap="round"/>
<path d="M862.1 375.5V411.1M853.3 375.5h17.6M853.3 411.1h17.6" fill="none" stroke="#ff2400" stroke-width="3.5"/>
<rect x="855.6" y="383.7" width="13" height="13" fill="none" stroke="#ff2400" stroke-width="3.6"/>
<path d="M888 404.1V422.7M879.2 404.1h17.6M879.2 422.7h17.6" fill="none" stroke="#ff2400" stroke-width="3.5"/>
<rect x="881.5" y="407" width="13" height="13" fill="none" stroke="#ff2400" stroke-width="3.6"/>
<path d="M913.9 432.8V454.5M905.1 432.8h17.6M905.1 454.5h17.6" fill="none" stroke="#ff2400" stroke-width="3.5"/>
<rect x="907.4" y="435.5" width="13" height="13" fill="none" stroke="#ff2400" stroke-width="3.6"/>
<path d="M939.6 479.3V509M930.8 479.3h17.6M930.8 509h17.6" fill="none" stroke="#ff2400" stroke-width="3.5"/>
<rect x="933.1" y="485.9" width="13" height="13" fill="none" stroke="#ff2400" stroke-width="3.6"/>
<path d="M965.5 525.7V599.3M956.7 525.7h17.6M956.7 599.3h17.6" fill="none" stroke="#ff2400" stroke-width="3.5"/>
<rect x="959" y="544.5" width="13" height="13" fill="none" stroke="#ff2400" stroke-width="3.6"/>
<path d="M479.8 274.9V315.1M471 274.9h17.6M471 315.1h17.6" fill="none" stroke="#000" stroke-width="4.0"/>
<rect x="473.8" y="284.6" width="12" height="12" fill="#000"/>
<path d="M558.9 257.2V294.3M550.1 257.2h17.6M550.1 294.3h17.6" fill="none" stroke="#000" stroke-width="4.0"/>
<rect x="552.9" y="266.2" width="12" height="12" fill="#000"/>
<path d="M862 140.3V175M853.2 140.3h17.6M853.2 175h17.6" fill="none" stroke="#000" stroke-width="4.0"/>
<rect x="856" y="149.2" width="12" height="12" fill="#000"/>
<path d="M887.8 150.9V169.8M879 150.9h17.6M879 169.8h17.6" fill="none" stroke="#000" stroke-width="4.0"/>
<rect x="881.8" y="153.9" width="12" height="12" fill="#000"/>
<path d="M913.9 163V184.8M905.1 163h17.6M905.1 184.8h17.6" fill="none" stroke="#000" stroke-width="4.0"/>
<rect x="907.9" y="167.3" width="12" height="12" fill="#000"/>
<path d="M939.3 182.2V211.1M930.5 182.2h17.6M930.5 211.1h17.6" fill="none" stroke="#000" stroke-width="4.0"/>
<rect x="933.3" y="189.3" width="12" height="12" fill="#000"/>
<path d="M965.5 183.2V256.6M956.7 183.2h17.6M956.7 256.6h17.6" fill="none" stroke="#000" stroke-width="4.0"/>
<rect x="959.5" y="202" width="12" height="12" fill="#000"/>
<rect x="632.3" y="219.7" width="12" height="12" fill="#000"/>
<path d="M629.1 225.7h18.4 M638.3 225.7V284.7" fill="none" stroke="#000" stroke-width="4.3"/>
<path d="M629.6 242.6L638.3 284.7L647 242.6" fill="none" stroke="#000" stroke-width="4.3" stroke-linejoin="round" stroke-linecap="round"/>
<g clip-path="url(#ci)">
<path d="M422.6 331.5 422.6 331.5 422.3 331.6 422 331.8 421.8 331.9 421.8 331.9 422.3 331.8 423.3 331.4 425 330.7 427.7 329.6 431.2 328.3 435.3 326.6 439.8 324.8 444.5 322.9 449.1 321.1 453.3 319.4 457.1 317.9 460.4 316.6 463.3 315.4 466.1 314.3 468.8 313.3 471.4 312.2 474 311.2 476.7 310.1 479.5 309 482.4 307.8 485.2 306.7 488 305.5 490.8 304.3 493.8 303 496.9 301.8 500.1 300.5 503.6 299.1 507.4 297.6 511.6 296 516 294.4 520.5 292.7 525 291 529.4 289.4 533.5 287.9 537.3 286.6 540.7 285.5 543.9 284.5 546.8 283.7 549.6 282.9 552.3 282.2 554.9 281.5 557.4 280.7 560 279.8 562.5 278.8 564.9 277.8 567.2 276.8 569.4 275.7 571.6 274.6 573.8 273.6 576 272.5 578.3 271.5 580.6 270.5 582.9 269.5 585.2 268.5 587.5 267.5 589.8 266.5 592.1 265.6 594.4 264.6 596.7 263.7 599 262.8 601.4 261.9 603.7 261 606.1 260.2 608.4 259.3 610.7 258.5 612.9 257.7 615 256.9 617 256.1 618.8 255.4 620.6 254.7 622.4 254 624.1 253.3 625.9 252.7 627.7 252 629.7 251.4 631.9 250.8 634.2 250.2 636.5 249.7 639 249.2 641.4 248.7 643.7 248.1 646 247.5 648 246.8 649.8 246.1 651.5 245.3 653 244.5 654.4 243.7 655.8 242.8 657.3 241.9 659 240.9 660.8 239.9 662.9 238.8 665.1 237.6 667.5 236.3 669.9 234.9 672.4 233.6 674.8 232.3 677.1 231 679.2 229.8 681.1 228.7 683 227.7 684.7 226.7 686.3 225.8 688 224.8 689.6 223.8 691.2 222.7 692.9 221.6 694.6 220.4 696.4 219.1 698.1 217.7 699.8 216.3 701.6 214.9 703.3 213.5 705 212 706.7 210.6 708.4 209.2 710.1 207.7 711.7 206.2 713.4 204.8 715.1 203.3 716.7 201.8 718.4 200.4 720 199.1 721.6 197.8 723.2 196.6 724.8 195.4 726.4 194.3 728 193.1 729.6 192 731.3 190.8 733 189.6 734.8 188.3 736.7 187.1 738.6 185.8 740.5 184.5 742.4 183.2 744.4 181.9 746.3 180.6 748.2 179.3 750.1 178 751.9 176.7 753.7 175.4 755.5 174.1 757.3 172.8 759.2 171.5 761 170.3 762.8 169.2 764.6 168.1 766.5 167.1 768.3 166.1 770.1 165.1 771.9 164.2 773.8 163.4 775.6 162.6 777.5 161.9 779.4 161.3 781.2 160.8 783.1 160.3 785 159.9 786.9 159.6 788.8 159.2 790.8 159 792.8 158.7 794.9 158.5 797 158.3 799.3 158.1 801.5 158 803.7 157.9 805.9 157.9 808 157.8 810 157.8 811.9 157.8 813.7 157.8 815.4 157.8 817.1 157.8 818.7 157.9 820.4 157.9 822 158 823.7 158.1 825.4 158.2 826.9 158.3 828.5 158.4 830.1 158.5 831.7 158.6 833.5 158.7 835.4 158.9 837.5 159.2 839.9 159.5 842.4 159.8 845.1 160.2 847.9 160.6 850.8 161 853.8 161.5 856.8 162 859.8 162.6 862.8 163.3 866 164 869.1 164.8 872.4 165.6 875.6 166.5 878.9 167.4 882.3 168.2 885.6 169 889 169.8 892.4 170.5 895.8 171.2 899.3 171.9 902.7 172.6 906.2 173.3 909.7 174.1 913.1 175 916.6 176 920.1 177 923.6 178 927.2 179.1 930.7 180.3 934.1 181.4 937.4 182.5 940.5 183.6 943.5 184.7 946.5 185.8 949.3 186.8 952.1 187.9 954.7 189 957.3 190 959.7 191 962 192 964.1 192.9 966 193.7 967.7 194.4 969.3 195.1 970.9 195.9 972.5 196.7 974.2 197.5 976.1 198.5 978.2 199.6 980.3 200.8 982.5 202 984.8 203.3 987.1 204.6 989.4 205.9 991.6 207.3 993.8 208.6 995.9 209.9 998 211.3 1000 212.6 1002 214 1004 215.4 1006 216.7 1008 218.1 1009.9 219.5 1011.8 220.9 1013.6 222.3 1015.5 223.6 1017.2 225 1019 226.4 1020.8 227.8 1022.6 229.3 1024.4 230.7 1026.2 232.2 1028 233.6 1029.8 235.1 1031.7 236.6 1033.5 238.1 1035.3 239.6 1037.1 241.2 1038.9 242.8 1040.7 244.5 1042.6 246.2 1044.4 248 1046.3 249.8 1048.1 251.6 1049.9 253.4 1051.7 255.2 1053.4 256.9 1055.1 258.6 1056.8 260.2 1058.5 261.8 1060.2 263.4 1061.8 265 1063.3 266.6 1064.9 268.2 1066.3 269.8 1067.7 271.4 1069 272.9 1070.2 274.5 1071.4 276 1072.5 277.6 1073.7 279.1 1074.8 280.7 1076 282.3 1077.2 284 1078.6 285.9 1079.9 287.8 1081.3 289.7 1082.5 291.5 1083.6 293.1 1084.6 294.5 1085.3 295.5" fill="none" stroke="#000" stroke-width="4.3" stroke-linejoin="round"/>
</g>
<path d="M438.4 624.1v-11M438.4 94.5v11M454.3 624.1v-11M454.3 94.5v11M470.1 624.1v-11M470.1 94.5v11M485.9 624.1v-11M485.9 94.5v11M501.8 624.1v-22M501.8 94.5v22M517.6 624.1v-11M517.6 94.5v11M533.4 624.1v-11M533.4 94.5v11M549.2 624.1v-11M549.2 94.5v11M565.1 624.1v-11M565.1 94.5v11M580.9 624.1v-11M580.9 94.5v11M596.7 624.1v-11M596.7 94.5v11M612.6 624.1v-11M612.6 94.5v11M628.4 624.1v-11M628.4 94.5v11M644.2 624.1v-11M644.2 94.5v11M660.1 624.1v-22M660.1 94.5v22M675.9 624.1v-11M675.9 94.5v11M691.7 624.1v-11M691.7 94.5v11M707.5 624.1v-11M707.5 94.5v11M723.4 624.1v-11M723.4 94.5v11M739.2 624.1v-11M739.2 94.5v11M755 624.1v-11M755 94.5v11M770.9 624.1v-11M770.9 94.5v11M786.7 624.1v-11M786.7 94.5v11M802.5 624.1v-11M802.5 94.5v11M818.4 624.1v-22M818.4 94.5v22M834.2 624.1v-11M834.2 94.5v11M850 624.1v-11M850 94.5v11M865.8 624.1v-11M865.8 94.5v11M881.7 624.1v-11M881.7 94.5v11M897.5 624.1v-11M897.5 94.5v11M913.3 624.1v-11M913.3 94.5v11M929.2 624.1v-11M929.2 94.5v11M945 624.1v-11M945 94.5v11M960.8 624.1v-11M960.8 94.5v11M976.7 624.1v-22M976.7 94.5v22M992.5 624.1v-11M992.5 94.5v11M1008.3 624.1v-11M1008.3 94.5v11M1024.1 624.1v-11M1024.1 94.5v11M1040 624.1v-11M1040 94.5v11M1055.8 624.1v-11M1055.8 94.5v11M1071.6 624.1v-11M1071.6 94.5v11M422.6 611.5h10.5M1087.5 611.5h-10.5M422.6 598.9h10.5M1087.5 598.9h-10.5M422.6 586.3h10.5M1087.5 586.3h-10.5M422.6 573.7h10.5M1087.5 573.7h-10.5M422.6 561.1h21.5M1087.5 561.1h-21.5M422.6 548.5h10.5M1087.5 548.5h-10.5M422.6 535.9h10.5M1087.5 535.9h-10.5M422.6 523.2h10.5M1087.5 523.2h-10.5M422.6 510.6h10.5M1087.5 510.6h-10.5M422.6 498h10.5M1087.5 498h-10.5M422.6 485.4h10.5M1087.5 485.4h-10.5M422.6 472.8h10.5M1087.5 472.8h-10.5M422.6 460.2h10.5M1087.5 460.2h-10.5M422.6 447.6h10.5M1087.5 447.6h-10.5M422.6 435h21.5M1087.5 435h-21.5M422.6 422.4h10.5M1087.5 422.4h-10.5M422.6 409.8h10.5M1087.5 409.8h-10.5M422.6 397.1h10.5M1087.5 397.1h-10.5M422.6 384.5h10.5M1087.5 384.5h-10.5M422.6 371.9h10.5M1087.5 371.9h-10.5M422.6 359.3h10.5M1087.5 359.3h-10.5M422.6 346.7h10.5M1087.5 346.7h-10.5M422.6 334.1h10.5M1087.5 334.1h-10.5M422.6 321.5h10.5M1087.5 321.5h-10.5M422.6 308.9h21.5M1087.5 308.9h-21.5M422.6 296.3h10.5M1087.5 296.3h-10.5M422.6 283.7h10.5M1087.5 283.7h-10.5M422.6 271h10.5M1087.5 271h-10.5M422.6 258.4h10.5M1087.5 258.4h-10.5M422.6 245.8h10.5M1087.5 245.8h-10.5M422.6 233.2h10.5M1087.5 233.2h-10.5M422.6 220.6h10.5M1087.5 220.6h-10.5M422.6 208h10.5M1087.5 208h-10.5M422.6 195.4h10.5M1087.5 195.4h-10.5M422.6 182.8h21.5M1087.5 182.8h-21.5M422.6 170.2h10.5M1087.5 170.2h-10.5M422.6 157.6h10.5M1087.5 157.6h-10.5M422.6 144.9h10.5M1087.5 144.9h-10.5M422.6 132.3h10.5M1087.5 132.3h-10.5M422.6 119.7h10.5M1087.5 119.7h-10.5M422.6 107.1h10.5M1087.5 107.1h-10.5" stroke="#000" stroke-width="4.3" fill="none"/>
<rect x="422.6" y="94.5" width="664.9" height="529.6" stroke="#000" stroke-width="4.8" fill="none" stroke-linejoin="round"/>
<g transform="matrix(0.9598,0.0000,0.0000,0.9826,131.2410,1440.6700)"><text x="0" y="0" style="font-family:'DejaVu Serif',serif;font-size:62px" stroke="#000" stroke-width="0.8">&#8722;14</text></g>
<g transform="matrix(0.9678,0.0000,0.0000,0.9617,131.1934,1239.4083)"><text x="0" y="0" style="font-family:'DejaVu Serif',serif;font-size:62px" stroke="#000" stroke-width="0.8">&#8722;13</text></g>
<g transform="matrix(0.9840,0.0000,0.0000,0.9826,131.0958,1040.0700)"><text x="0" y="0" style="font-family:'DejaVu Serif',serif;font-size:62px" stroke="#000" stroke-width="0.8">&#8722;12</text></g>
<g transform="matrix(0.9470,0.0000,0.0000,0.9826,131.3179,839.7700)"><text x="0" y="0" style="font-family:'DejaVu Serif',serif;font-size:62px" stroke="#000" stroke-width="0.8">&#8722;11</text></g>
<g transform="matrix(0.9678,0.0000,0.0000,0.9617,131.1934,638.5083)"><text x="0" y="0" style="font-family:'DejaVu Serif',serif;font-size:62px" stroke="#000" stroke-width="0.8">&#8722;10</text></g>
<g transform="matrix(0.9549,0.0000,0.0000,0.9617,170.0707,438.2083)"><text x="0" y="0" style="font-family:'DejaVu Serif',serif;font-size:62px" stroke="#000" stroke-width="0.8">&#8722;9</text></g>
<g transform="matrix(0.9549,0.0000,0.0000,0.9617,170.0707,237.9083)"><text x="0" y="0" style="font-family:'DejaVu Serif',serif;font-size:62px" stroke="#000" stroke-width="0.8">&#8722;8</text></g>
<g transform="matrix(0.9353,0.0000,0.0000,0.9766,257.7529,1496.2234)"><text x="0" y="0" style="font-family:'DejaVu Serif',serif;font-size:62px" stroke="#000" stroke-width="0.8">10</text></g>
<g transform="matrix(0.9309,0.0000,0.0000,0.9766,686.1838,1496.2234)"><text x="0" y="0" style="font-family:'DejaVu Serif',serif;font-size:62px" stroke="#000" stroke-width="0.8">15</text></g>
<g transform="matrix(1.0141,0.0000,0.0000,0.9766,1107.9437,1496.2234)"><text x="0" y="0" style="font-family:'DejaVu Serif',serif;font-size:62px" stroke="#000" stroke-width="0.8">20</text></g>
<g transform="matrix(0.9958,0.0000,0.0000,0.9766,1537.0169,1496.2234)"><text x="0" y="0" style="font-family:'DejaVu Serif',serif;font-size:62px" stroke="#000" stroke-width="0.8">25</text></g>
<g transform="matrix(0.9044,0.0000,0.0000,0.9898,818.1868,1579.4424)"><text x="0" y="0" style="font-family:'DejaVu Serif',serif;font-size:62px" stroke="#000" stroke-width="0.8">Log</text></g>
<g transform="matrix(0.9688,0.0000,0.0000,0.9394,960.7250,1579.6000)"><text x="0" y="0" style="font-family:'DejaVu Serif',serif;font-size:62px;font-style:italic" stroke="#000" stroke-width="0.8">&#957;</text></g>
<g transform="matrix(1.0067,0.0000,0.0000,1.1875,1045.1667,1583.9000)"><text x="0" y="0" style="font-family:'DejaVu Serif',serif;font-size:62px" stroke="#000" stroke-width="0.8">[</text></g>
<g transform="matrix(0.9061,0.0000,0.0000,1.0111,1072.1817,1580.5000)"><text x="0" y="0" style="font-family:'DejaVu Serif',serif;font-size:62px" stroke="#000" stroke-width="0.8">Hz</text></g>
<g transform="matrix(1.0400,0.0000,0.0000,1.1875,1155.0400,1583.9000)"><text x="0" y="0" style="font-family:'DejaVu Serif',serif;font-size:62px" stroke="#000" stroke-width="0.8">]</text></g>
<g transform="matrix(0.0000,-0.9000,1.0068,0.0000,77.6051,1102.4000)"><text x="0" y="0" style="font-family:'DejaVu Serif',serif;font-size:62px" stroke="#000" stroke-width="0.8">Log</text></g>
<g transform="matrix(0.0000,-0.9576,1.0079,0.0000,77.6571,960.5303)"><text x="0" y="0" style="font-family:'DejaVu Serif',serif;font-size:62px" stroke="#000" stroke-width="0.8"><tspan font-style="italic">&#957;</tspan>F<tspan font-style="italic" font-size="38" dy="18">&#957;</tspan></text></g>
<g transform="matrix(0.0000,-1.0267,1.1946,0.0000,82.4429,813.6333)"><text x="0" y="0" style="font-family:'DejaVu Serif',serif;font-size:62px" stroke="#000" stroke-width="0.8">[</text></g>
<g transform="matrix(0.0000,-0.9755,0.9702,0.0000,78.0170,786.3265)"><text x="0" y="0" style="font-family:'DejaVu Serif',serif;font-size:62px" stroke="#000" stroke-width="0.8">erg</text></g>
<g transform="matrix(0.0000,-1.0233,0.9796,0.0000,77.0204,648.6699)"><text x="0" y="0" style="font-family:'DejaVu Serif',serif;font-size:62px" stroke="#000" stroke-width="0.8">cm<tspan font-size="40" dy="-18.5">&#8722;2</tspan></text></g>
<g transform="matrix(0.0000,-0.9427,0.9979,0.0000,77.0021,463.0280)"><text x="0" y="0" style="font-family:'DejaVu Serif',serif;font-size:62px" stroke="#000" stroke-width="0.8">s<tspan font-size="40" dy="-18.5">&#8722;1</tspan></text></g>
<g transform="matrix(0.0000,-1.0467,1.1875,0.0000,82.2000,375.7867)"><text x="0" y="0" style="font-family:'DejaVu Serif',serif;font-size:62px" stroke="#000" stroke-width="0.8">]</text></g>
<g transform="matrix(0.9198,0.0000,0.0000,0.9326,1148.5405,1119.2674)"><text x="0" y="0" style="font-family:'DejaVu Serif',serif;font-size:56px" stroke="#000" stroke-width="0.8">PKS</text></g>
<g transform="matrix(0.9334,0.0000,0.0000,0.9279,1286.1993,1119.0721)"><text x="0" y="0" style="font-family:'DejaVu Serif',serif;font-size:56px" stroke="#000" stroke-width="0.8">1222+216</text></g>
<g transform="matrix(0.9570,0.0000,0.0000,0.9326,1148.7861,1199.1674)"><text x="0" y="0" style="font-family:'DejaVu Serif',serif;font-size:56px" stroke="#000" stroke-width="0.8">z=0.432</text></g>
<g transform="matrix(1.1368,0.0000,0.0000,1.0000,357.2263,195.7700)"><text x="0" y="0" style="font-family:'Liberation Sans',sans-serif;font-weight:bold;font-size:36px" >&#8722;8</text></g>
<g transform="matrix(1.1368,0.0000,0.0000,1.0000,357.2263,321.8700)"><text x="0" y="0" style="font-family:'Liberation Sans',sans-serif;font-weight:bold;font-size:36px" >&#8722;9</text></g>
<g transform="matrix(1.0897,0.0000,0.0000,1.0000,337.3207,447.9700)"><text x="0" y="0" style="font-family:'Liberation Sans',sans-serif;font-weight:bold;font-size:36px" >&#8722;10</text></g>
<g transform="matrix(1.0571,0.0000,0.0000,1.0000,337.3857,574.0700)"><text x="0" y="0" style="font-family:'Liberation Sans',sans-serif;font-weight:bold;font-size:36px" >&#8722;11</text></g>
<g transform="matrix(1.0632,0.0000,0.0000,0.9885,480.0868,666.4000)"><text x="0" y="0" style="font-family:'Liberation Sans',sans-serif;font-weight:bold;font-size:36px" >23</text></g>
<g transform="matrix(1.0359,0.0000,0.0000,0.9885,638.4141,666.4000)"><text x="0" y="0" style="font-family:'Liberation Sans',sans-serif;font-weight:bold;font-size:36px" >24</text></g>
<g transform="matrix(1.0632,0.0000,0.0000,0.9885,796.6868,666.4000)"><text x="0" y="0" style="font-family:'Liberation Sans',sans-serif;font-weight:bold;font-size:36px" >25</text></g>
<g transform="matrix(1.0632,0.0000,0.0000,0.9885,954.9868,666.4000)"><text x="0" y="0" style="font-family:'Liberation Sans',sans-serif;font-weight:bold;font-size:36px" >26</text></g>
</svg>
</body></html>
